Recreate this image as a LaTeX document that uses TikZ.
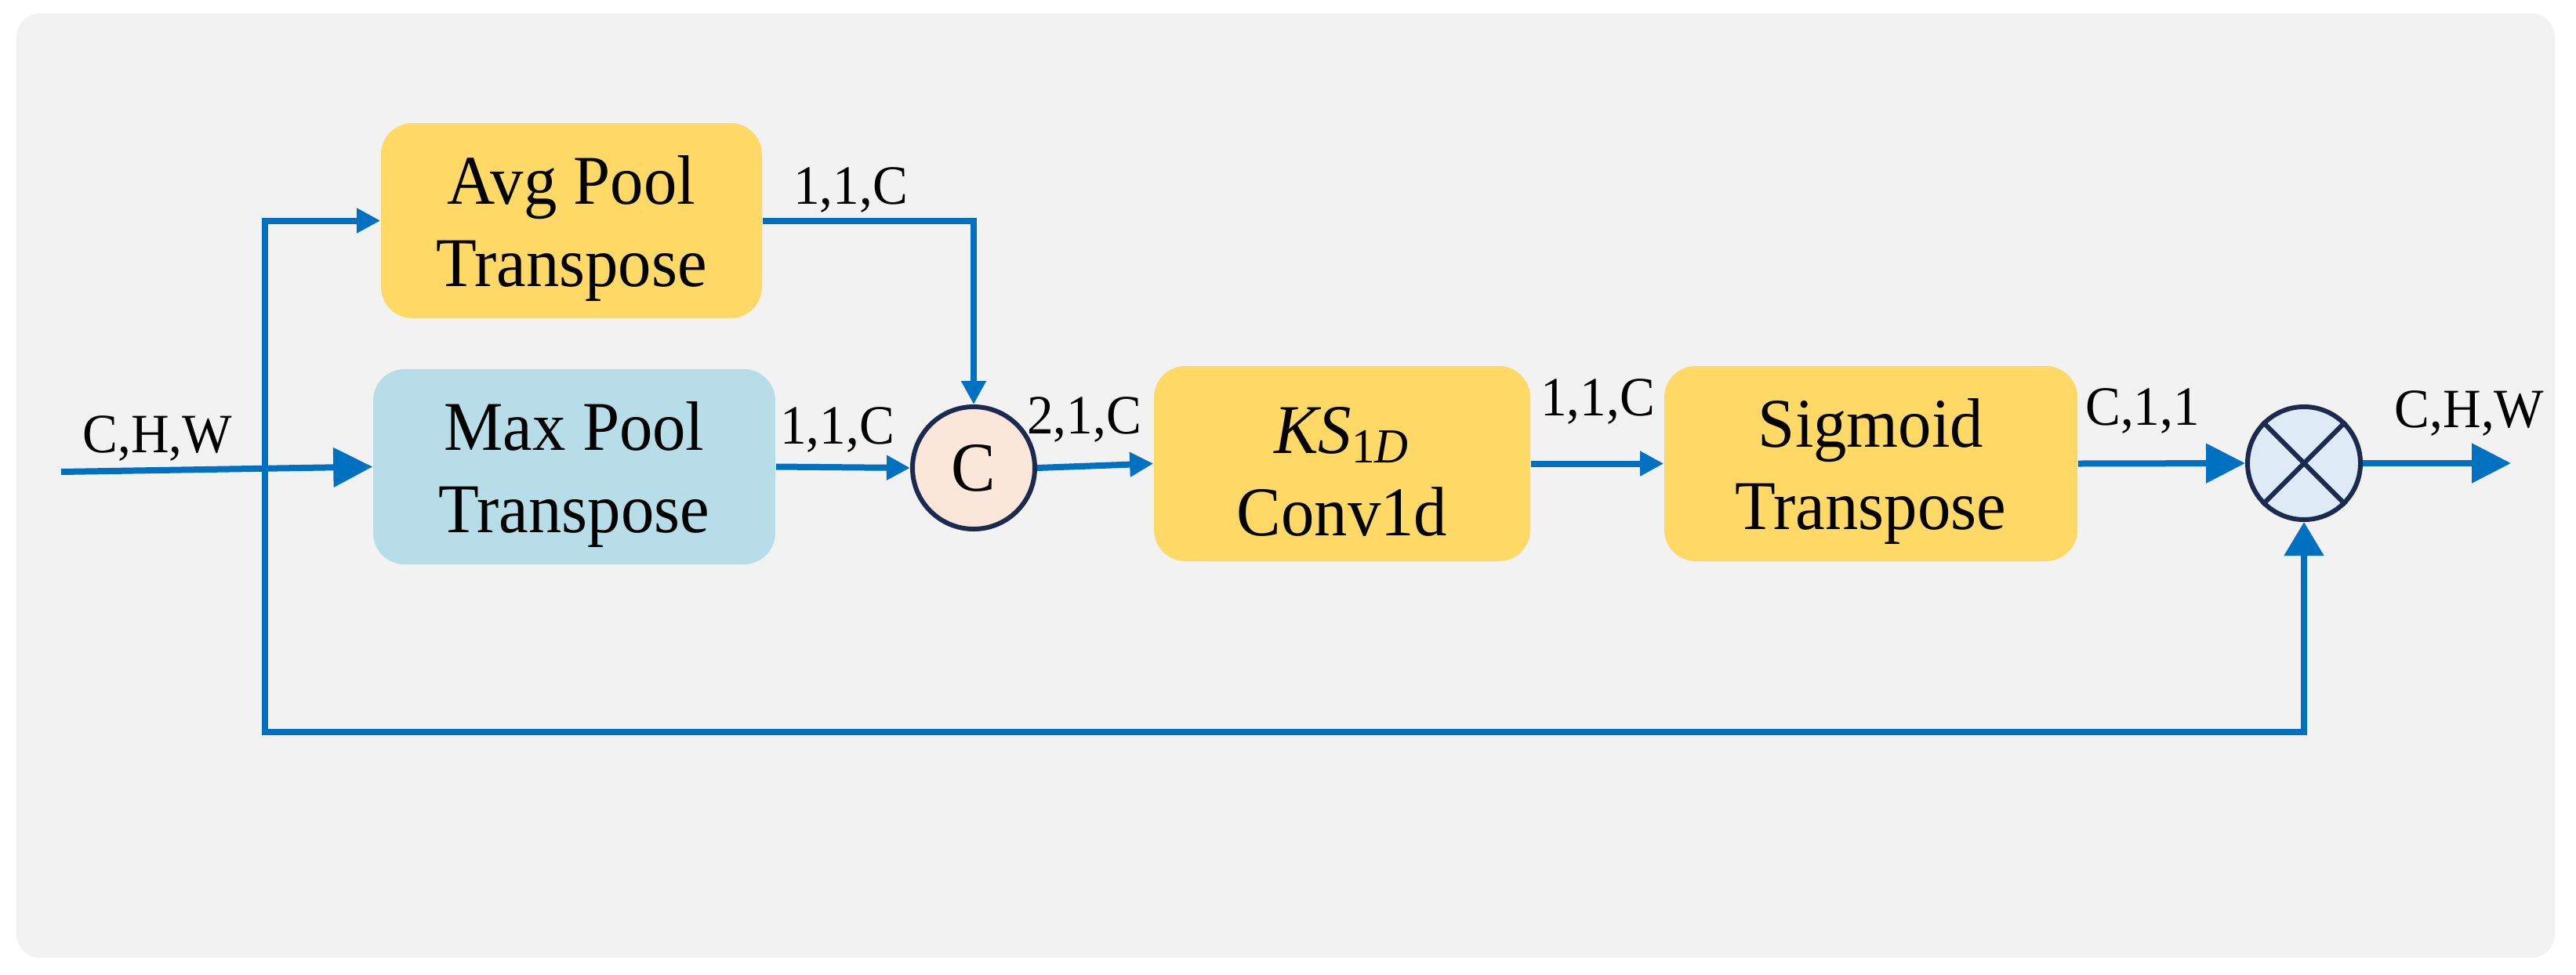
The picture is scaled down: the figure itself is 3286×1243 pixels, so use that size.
\documentclass[tikz,border=0pt]{standalone}
\usepackage{fontspec}
\setmainfont{Liberation Serif}[FakeStretch=0.95]
\usetikzlibrary{arrows.meta}
\definecolor{bgc}{HTML}{F2F2F2}
\definecolor{gold}{HTML}{FFD966}
\definecolor{lblue}{HTML}{B7DDE8}
\definecolor{peach}{HTML}{FBE7D9}
\definecolor{pblue}{HTML}{DEEAF6}
\definecolor{navy}{HTML}{1B2A4E}
\definecolor{flow}{HTML}{0070C0}
\begin{document}
\begin{tikzpicture}[x=0.25pt,y=-0.25pt,
  box/.style={rounded corners=10pt, inner sep=0pt, minimum height=62.25pt},
  boxtext/.style={inner sep=0pt, align=center, yshift=-2.5pt,
    font=\fontsize{22.3}{26.25}\selectfont},
  opnode/.style={circle, draw=navy, line width=1.5pt, inner sep=0pt,
    font=\fontsize{22.3}{26}\selectfont},
  lab/.style={anchor=base, inner sep=0pt, font=\fontsize{17.7}{20}\selectfont},
  flowline/.style={draw=flow, line width=2pt},
  tipS/.style={-{Triangle[length=7.5pt,width=7.5pt]}},
  tipB/.style={-{Triangle[length=12.5pt,width=12.25pt]}}
]
\useasboundingbox (0,0) rectangle (3286,1243);
\fill[bgc, rounded corners=7.5pt] (21,17) rectangle (3259,1222);

\node[box, fill=gold, minimum width=121.5pt] (avg) at (729,281.5) {};
\node[boxtext] (avgt) at (avg.center) {Avg Pool\\Transpose};
\node[box, fill=lblue, minimum width=128.25pt] (max) at (732.5,595.5) {};
\node[boxtext] (maxt) at (max.center) {Max Pool\\Transpose};
\node[opnode, fill=peach, minimum size=39pt] (cat) at (1242,597) {C};
\node[box, fill=gold, minimum width=120pt] (conv) at (1712,591.5) {};
\node[boxtext] (convt) at (conv.center) {{\itshape KS}\textsubscript{1\itshape D}\\Conv1d};
\node[box, fill=gold, minimum width=131.75pt] (sig) at (2386.5,591.5) {};
\node[boxtext] (sigt) at (sig.center) {Sigmoid\\Transpose};
\node[opnode, fill=pblue, minimum size=36pt] (mul) at (2939,591) {};
\draw[navy, line width=1.5pt] (mul.north east) -- (mul.south west);
\draw[navy, line width=1.5pt] (mul.north west) -- (mul.south east);

\coordinate (in) at (78,602);
\coordinate (br) at (338,934);
\coordinate (out) at (3203,591);

\draw[flowline, tipB] (in) -- (max.west);
\draw[flowline, {Triangle[length=7.5pt,width=7.5pt]}-{Triangle[length=10.75pt,width=12.25pt]}]
  (avg.west) -| (br) -| (mul.south);
\draw[flowline, tipS] (avg.east) -| (cat.north);
\draw[flowline, tipS] (max.east) -- (cat.west);
\draw[flowline, tipS] (cat.east) -- (conv.west);
\draw[flowline, tipS] (conv.east) -- (sig.west);
\draw[flowline, tipB] (sig.east) -- (mul.west);
\draw[flowline, tipB] (mul.east) -- (out);

\node[lab] (l1) at (201,577) {C,H,W};
\node[lab] (l2) at (1085,260) {1,1,C};
\node[lab] (l3) at (1068,566) {1,1,C};
\node[lab] (l4) at (1383,553) {2,1,C};
\node[lab] (l5) at (2038,530) {1,1,C};
\node[lab] (l6) at (2733,542) {C,1,1};
\node[lab] (l7) at (3150,545) {C,H,W};
\end{tikzpicture}
\end{document}
